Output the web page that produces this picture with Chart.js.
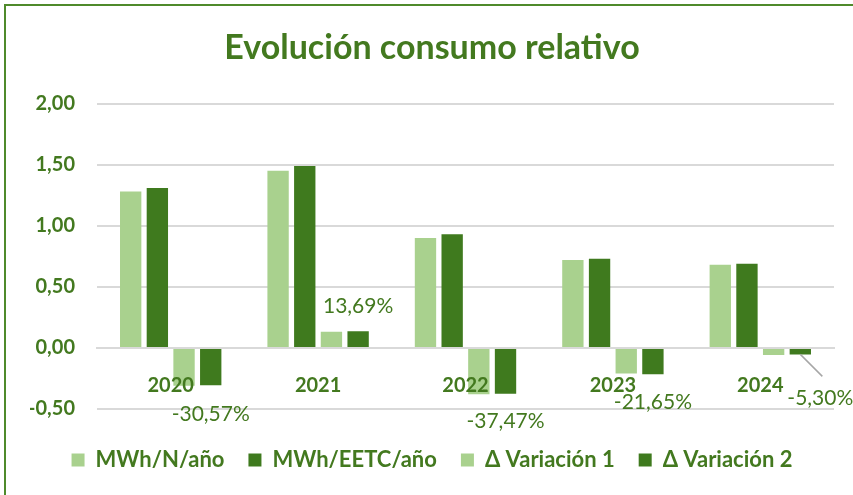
<!DOCTYPE html>
<html><head><meta charset="utf-8">
<script src="https://cdn.jsdelivr.net/npm/chart.js@4/dist/chart.umd.min.js"></script>
<style>
html,body{margin:0;padding:0;background:#fff;}
#wrap{position:relative;width:853px;height:495px;overflow:hidden;background:#fff;}
#frame{position:absolute;left:4px;top:4px;width:900px;height:600px;border:2px solid #4f8a2b;box-sizing:border-box;}
canvas{position:absolute;left:0;top:0;}
</style></head><body>
<div id="wrap"><div id="frame"></div><canvas id="c" width="853" height="495"></canvas></div>
<script>
const categories = ['2020', '2021', '2022', '2023', '2024'];
const mwhN = [1.28, 1.45, 0.90, 0.72, 0.68];
const mwhEETC = [1.31, 1.49, 0.93, 0.73, 0.69];
const variacion1 = [-0.31, 0.133, -0.38, -0.21, -0.057];
const variacion2 = [-0.3057, 0.1369, -0.3747, -0.2165, -0.0530];
const yTicks = [-0.5, 0, 0.5, 1, 1.5, 2];
const seriesNames = ['MWh/N/año', 'MWh/EETC/año', 'Δ Variación 1', 'Δ Variación 2'];
const titleText = 'Evolución consumo relativo';

const GREEN = '#43791f';
const LIGHT = '#a9d18e';
const DARK = '#3f7a1e';
const GRID = '#d9d9d9';

const labelOffsets = [
  {dx: 0, dy: 29}, {dx: 0, dy: -25}, {dx: 0, dy: 28}, {dx: 0, dy: 28}, {dx: 20, dy: 44, leader: true}
];

const fmtComma = (v, d) => v.toFixed(d).replace('.', ',');

const varLabels = {
  id: 'varLabels',
  afterDatasetsDraw(chart) {
    const meta = chart.getDatasetMeta(3);
    const ctx = chart.ctx;
    ctx.save();
    ctx.font = '21px Lato';
    ctx.fillStyle = GREEN;
    ctx.textAlign = 'center';
    ctx.textBaseline = 'middle';
    meta.data.forEach((bar, i) => {
      const o = labelOffsets[i];
      const x = bar.x + o.dx, y = bar.y + o.dy;
      if (o.leader) {
        ctx.strokeStyle = '#a6a6a6';
        ctx.lineWidth = 1.5;
        ctx.beginPath();
        ctx.moveTo(bar.x, bar.y);
        ctx.lineTo(bar.x + 22, bar.y + 22);
        ctx.stroke();
      }
      ctx.fillText(fmtComma(variacion2[i] * 100, 2) + '%', x, y);
    });
    ctx.restore();
  }
};

new Chart(document.getElementById('c'), {
  type: 'bar',
  data: {
    labels: categories,
    datasets: [
      {label: seriesNames[0], data: mwhN, backgroundColor: LIGHT},
      {label: seriesNames[1], data: mwhEETC, backgroundColor: DARK},
      {label: seriesNames[2], data: variacion1, backgroundColor: LIGHT},
      {label: seriesNames[3], data: variacion2, backgroundColor: DARK}
    ]
  },
  options: {
    responsive: false,
    animation: false,
    events: [],
    layout: {padding: {left: 30, right: 19, top: 0, bottom: 14}},
    datasets: {bar: {categoryPercentage: 0.724, barPercentage: 0.8, borderWidth: 0}},
    scales: {
      y: {
        min: -0.5, max: 2,
        afterBuildTicks(scale) { scale.ticks = yTicks.map(v => ({value: v})); },
        afterFit(scale) { scale.width = 67; },
        border: {display: false},
        grid: {color: GRID, lineWidth: 2, drawTicks: false},
        ticks: {
          padding: 22, color: GREEN,
          font: {family: 'Lato', size: 20, weight: 'bold'},
          callback: v => fmtComma(v, 2)
        }
      },
      x: {
        position: {y: 0},
        afterFit(scale) { scale.height = 0; },
        grid: {display: false},
        border: {display: true, color: GRID, width: 2},
        ticks: {
          z: 1,
          padding: 18, color: GREEN,
          font: {family: 'Lato', size: 20, weight: 'bold', lineHeight: 1.2}
        }
      }
    },
    plugins: {
      tooltip: {enabled: false},
      title: {
        display: true, text: titleText, color: GREEN,
        font: {family: 'Lato', size: 34, weight: 'bold', lineHeight: 1.2},
        padding: {top: 27.6, bottom: 35.2}
      },
      legend: {
        position: 'bottom',
        title: {display: true, text: ' ', font: {size: 10, lineHeight: 1}, padding: {top: 6, bottom: 0}},
        labels: {
          boxWidth: 13, boxHeight: 13, padding: 24, color: GREEN,
          font: {family: 'Lato', size: 22, weight: 'bold'}
        }
      }
    }
  },
  plugins: [varLabels]
});
</script>
</body></html>
